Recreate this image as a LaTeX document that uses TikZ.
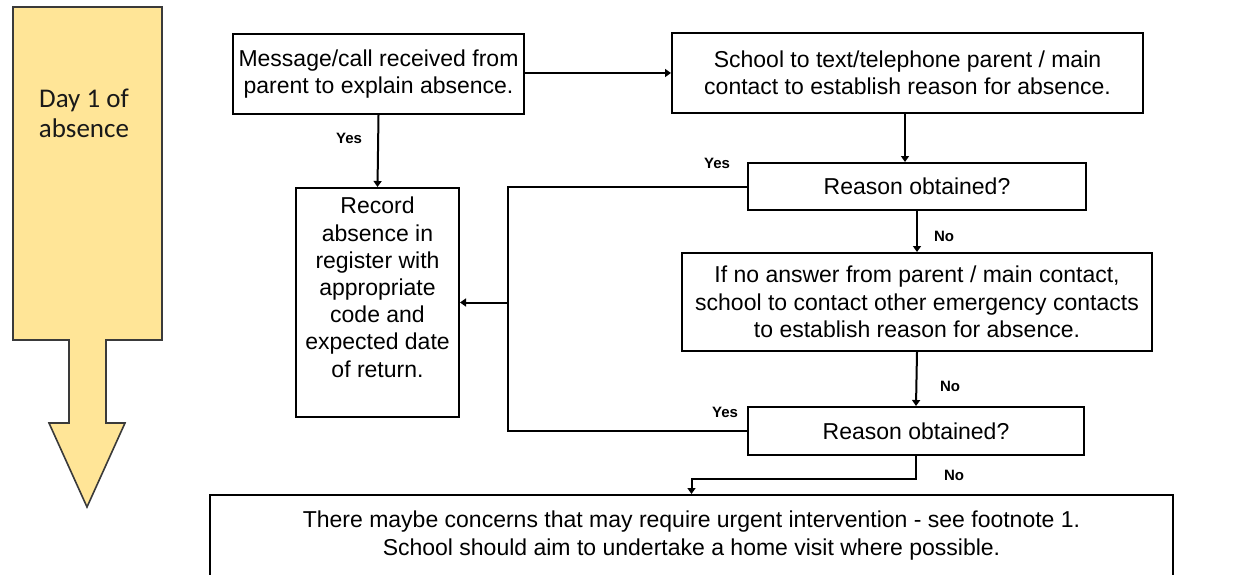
\documentclass[tikz,border=0pt]{standalone}
\usepackage{fontspec}
\setmainfont{Liberation Sans}
\newfontfamily\calib{Carlito}
\usetikzlibrary{arrows.meta,calc}
\definecolor{dayfill}{HTML}{FFE597}
\definecolor{dayline}{HTML}{3A3A3A}
\tikzset{
  x=1pt, y=-1pt,
  box/.style={draw=black, line width=2pt, fill=white, inner sep=0pt, align=center,
    font=\fontsize{23}{27.5}\selectfont},
  conn/.style={draw=black, line width=2pt},
  arr/.style={conn, -{Triangle[length=6pt,width=8pt]}},
  lbl/.style={inner sep=0pt, font=\fontsize{15}{15}\selectfont\bfseries},
}
\begin{document}
\begin{tikzpicture}
\useasboundingbox (0,0) rectangle (1239,575);
% big day arrow
\draw[fill=dayfill, draw=dayline, line width=1.6pt, line join=miter]
  (13,7) -- (162,7) -- (162,340) -- (106,340) -- (106,423) -- (125,423) -- (87,507)
  -- (49,423) -- (69,423) -- (69,340) -- (13,340) -- cycle;
\node[align=center, inner sep=0pt, font=\calib\fontsize{27}{30}\selectfont, text=black!90] (day) at (84,113) {Day 1 of\\absence};

% boxes
\node[box, minimum width=291pt, minimum height=80pt] (A) at (378.5,74) {Message/call received from\\parent to explain absence.};
\node[box, minimum width=471pt, minimum height=80pt] (B) at (907.5,73) {School to text/telephone parent / main\\contact to establish reason for absence.};
\node[box, minimum width=163pt, minimum height=229pt] (rec) at (377.5,302.5) {};
\node[align=center, inner sep=0pt, anchor=north, font=\fontsize{23}{27.2}\selectfont] (rectxt) at (377.5,197)
  {Record\\absence in\\register with\\appropriate\\code and\\expected date\\of return.};
\node[box, minimum width=338pt, minimum height=47pt] (R1) at (917,186.5) {Reason obtained?};
\node[box, minimum width=470pt, minimum height=98pt] (C) at (917,302) {If no answer from parent / main contact,\\school to contact other emergency contacts\\to establish reason for absence.};
\node[box, minimum width=336pt, minimum height=48pt] (R2) at (916,431) {Reason obtained?};
\node[box, minimum width=963pt, minimum height=81pt] (D) at (691.5,535.5) {There maybe concerns that may require urgent intervention - see footnote 1.\\School should aim to undertake a home visit where possible.};

% connectors
\draw[arr] (A.east |- 0,73) -- (B.west |- 0,73);
\draw[arr] (A.south) -- (rec.north);
\draw[arr] (B.south -| 905,0) -- (R1.north -| 905,0);
\draw[arr] (R1.south) -- (C.north);
\draw[arr] (C.south) -- (R2.north);
\coordinate (b1) at (916,479);
\coordinate (b2) at (D.north |- b1);
\draw[arr] (R2.south) -- (b1) -- (b2) -- (D.north);
\coordinate (y1) at (508,186.5);
\coordinate (y2) at (508,431);
\coordinate (y3) at (508,302.5);
\draw[conn] (R1.west) -- (y1) -- (y2) -- (R2.west);
\draw[arr] (y3) -- (rec.east);

% labels
\node[lbl] (l1) at (349,138) {Yes};
\node[lbl] (l2) at (717,163) {Yes};
\node[lbl] (l3) at (944,236) {No};
\node[lbl] (l4) at (950,386) {No};
\node[lbl] (l5) at (725,412) {Yes};
\node[lbl] (l6) at (954,475) {No};
\end{tikzpicture}
\end{document}
